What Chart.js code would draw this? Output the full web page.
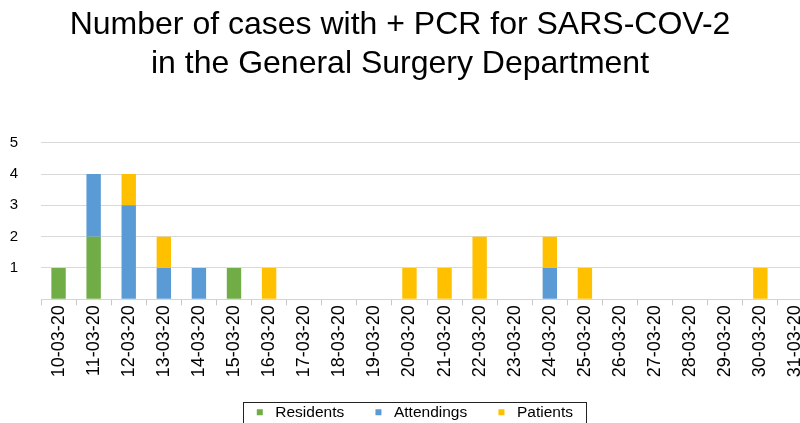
<!DOCTYPE html>
<html>
<head>
<meta charset="utf-8">
<script src="https://cdn.jsdelivr.net/npm/chart.js@4/dist/chart.umd.min.js"></script>
<style>
  html, body { margin: 0; padding: 0; background: #fff; }
  #wrap { position: relative; width: 800px; height: 423px; overflow: hidden; background: #fff; }
  #title { position: absolute; left: 0; top: 3.8px; width: 800px; text-align: center;
           font-family: "Liberation Sans", Arial, sans-serif; font-size: 32px; line-height: 38.7px; color: #000; z-index: 2; }
  #cv { position: absolute; left: 0; top: 0; }
</style>
</head>
<body>
<div id="wrap">
  <div id="title">Number of cases with + PCR for SARS-COV-2<br>in the General Surgery Department</div>
  <canvas id="cv" width="829" height="430" style="width:829px;height:430px"></canvas>
</div>
<script>
const categories = ['10-03-20','11-03-20','12-03-20','13-03-20','14-03-20','15-03-20','16-03-20','17-03-20','18-03-20','19-03-20','20-03-20','21-03-20','22-03-20','23-03-20','24-03-20','25-03-20','26-03-20','27-03-20','28-03-20','29-03-20','30-03-20','31-03-20'];
const residents  = [1,2,0,0,0,1,0,0,0,0,0,0,0,0,0,0,0,0,0,0,0,0];
const attendings = [0,2,3,1,1,0,0,0,0,0,0,0,0,0,1,0,0,0,0,0,0,0];
const patients   = [0,0,1,1,0,0,1,0,0,0,1,1,2,0,1,1,0,0,0,0,1,0];
const yTicks = [0,1,2,3,4,5];

const FONT = "'Liberation Sans', Arial, sans-serif";
const LEG_FONT = 15.5;
const LEG_BOXW = 15.5;

const legendBox = {
  id: 'legendBox',
  afterDraw(chart) {
    const hb = chart.legend && chart.legend.legendHitBoxes;
    if (!hb || !hb.length) return;
    const ctx = chart.ctx;
    const last = hb[hb.length - 1];
    const markerLeft = hb[0].left + LEG_BOXW / 2 - 3;
    const x0 = Math.round(markerLeft - 14) + 0.5;
    const x1 = Math.round(last.left + last.width + 13) + 0.5;
    ctx.save();
    ctx.strokeStyle = '#222';
    ctx.lineWidth = 1;
    ctx.strokeRect(x0, 402.5, x1 - x0, 30);
    ctx.restore();
  }
};

new Chart(document.getElementById('cv'), {
  type: 'bar',
  data: {
    labels: categories,
    datasets: [
      { label: 'Residents', data: residents, backgroundColor: '#70AD47', borderWidth: 0 },
      { label: 'Attendings', data: attendings, backgroundColor: '#5B9BD5', borderWidth: 0 },
      { label: 'Patients', data: patients, backgroundColor: '#FFC000', borderWidth: 0 }
    ]
  },
  options: {
    responsive: false,
    animation: false,
    events: [],
    datasets: { bar: { categoryPercentage: 1.0, barPercentage: 0.41 } },
    layout: { padding: { top: 142.7, left: 8, right: 12, bottom: 0 } },
    plugins: {
      title: { display: false },
      tooltip: { enabled: false },
      legend: {
        position: 'bottom',
        labels: {
          usePointStyle: true, pointStyle: 'rect',
          boxWidth: LEG_BOXW, boxHeight: 6, padding: 26.5, color: '#000',
          font: { family: FONT, size: LEG_FONT }
        }
      }
    },
    scales: {
      x: {
        stacked: true,
        grid: { drawOnChartArea: false, drawTicks: true, tickLength: 6, color: '#c8c8c8', offset: true },
        border: { display: true, color: '#d4d4d4', width: 1 },
        ticks: { minRotation: 90, maxRotation: 90, padding: 0, color: '#000', font: { family: FONT, size: 18 }, autoSkip: false },
        afterFit(s) { s.height = 78.7; }
      },
      y: {
        stacked: true,
        min: 0, max: 5,
        afterBuildTicks(s) { s.ticks = yTicks.map(v => ({ value: v })); },
        grid: { color: '#d9d9d9', lineWidth: 1, drawTicks: false },
        border: { display: false },
        ticks: {
          padding: 23, color: '#000', font: { family: FONT, size: 15 },
          callback: v => (v === 0 ? '' : String(v))
        },
        afterFit(s) { s.width = 33; }
      },
      yPad: {
        type: 'linear', position: 'right', display: true,
        grid: { display: false }, border: { display: false }, ticks: { display: false },
        afterFit(s) { s.width = 4; }
      }
    }
  },
  plugins: [legendBox]
});
</script>
</body>
</html>
